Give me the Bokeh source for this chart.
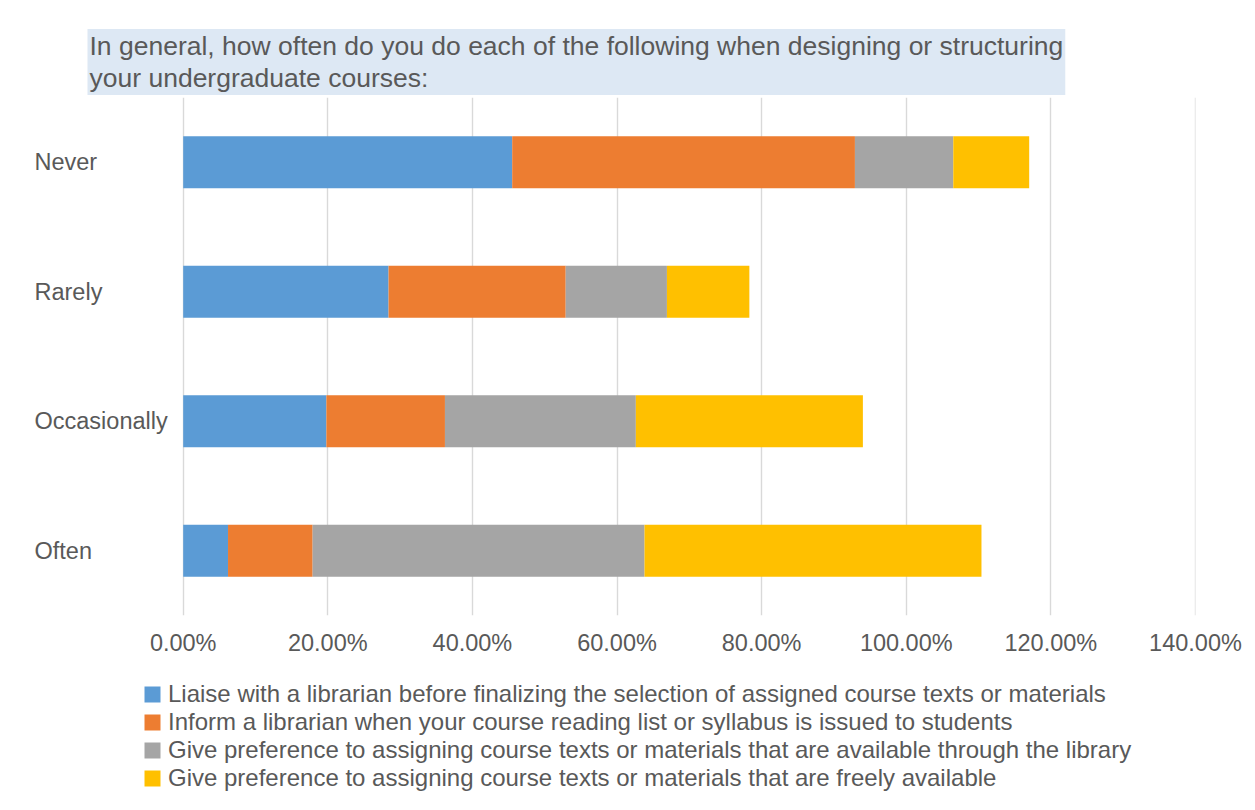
from bokeh.plotting import figure
from bokeh.layouts import column
from bokeh.core.properties import value
from bokeh.models import (ColumnDataSource, Range1d, FixedTicker, PrintfTickFormatter,
                          LabelSet, Title, Legend, LegendItem)
from bokeh.embed import file_html
from bokeh.resources import INLINE

# ---- data ----
categories = ["Often", "Occasionally", "Rarely", "Never"]
liaise = [6.2, 19.8, 28.4, 45.5]
inform = [11.7, 16.4, 24.5, 47.4]
library = [45.9, 26.4, 14.0, 13.6]
freely = [46.6, 31.4, 11.4, 10.5]
series_names = [
    "Liaise with a librarian before finalizing the selection of assigned course texts or materials",
    "Inform a librarian when your course reading list or syllabus is issued to students",
    "Give preference to assigning course texts or materials that are available through the library",
    "Give preference to assigning course texts or materials that are freely available",
]
x_ticks = [0, 20, 40, 60, 80, 100, 120, 140]
title_text = ("In general, how often do you do each of the following when designing or structuring\n"
              "your undergraduate courses:")

colors = ["#5b9bd5", "#ed7d31", "#a5a5a5", "#ffc000"]
FONT = "Liberation Sans"
TXT = "#595959"

keys = ["liaise", "inform", "library", "freely"]
source = ColumnDataSource(dict(y=list(range(len(categories))), cat=categories,
                               liaise=liaise, inform=inform, library=library, freely=freely))

W = 1247
H1 = 662
H2 = 140
frame_right = 1195
px_per_unit = (frame_right - 182.7) / 140.0
x_start = -182.7 / px_per_unit

# ---- main chart ----
p = figure(width=W, height=H1, output_backend="svg", toolbar_location=None,
           x_range=Range1d(x_start, 140.0001), y_range=Range1d(-0.5, len(categories) - 0.5),
           min_border_left=0, min_border_right=W - frame_right, min_border_top=97,
           min_border_bottom=H1 - 615)
p.outline_line_color = None
p.background_fill_color = "white"
p.border_fill_color = "white"

renderers = p.hbar_stack(keys, y="y", height=0.4, color=colors, source=source, line_width=0)

p.yaxis.visible = False
p.ygrid.grid_line_color = None
p.xgrid.grid_line_color = "#d9d9d9"
p.xgrid.grid_line_width = 1.4
p.xgrid.level = "underlay"
p.xaxis.ticker = FixedTicker(ticks=x_ticks)
p.xgrid.ticker = FixedTicker(ticks=x_ticks)
p.xaxis.formatter = PrintfTickFormatter(format="%.2f%%")
p.xaxis.axis_line_color = None
p.xaxis.major_tick_line_color = None
p.xaxis.minor_tick_line_color = None
p.xaxis.major_tick_in = 0
p.xaxis.major_tick_out = 0
p.xaxis.major_label_standoff = 14
p.xaxis.major_label_text_font = FONT
p.xaxis.major_label_text_font_size = "23.5px"
p.xaxis.major_label_text_color = TXT

labels = LabelSet(x=34, y="y", text="cat", x_units="screen", y_units="data", source=source,
                  text_font=value(FONT), text_font_size=value("23.5px"), text_color=TXT,
                  text_align="left", text_baseline="middle")
p.add_layout(labels)

title = Title(text=title_text, align="left", offset=87, standoff=5,
              text_font=FONT, text_font_size="26.5px", text_color=TXT, text_font_style="normal",
              text_line_height=1.07, background_fill_color="#dde8f4", padding=2)
p.add_layout(title, "above")

# ---- legend strip ----
p2 = figure(width=W, height=H2, output_backend="svg", toolbar_location=None,
            x_range=Range1d(0, 1), y_range=Range1d(0, 1),
            min_border_left=0, min_border_right=0, min_border_top=0, min_border_bottom=0)
p2.axis.visible = False
p2.grid.visible = False
p2.outline_line_color = None
legend_renderers = p2.hbar_stack(keys, y="y", height=0.4, color=colors, source=source,
                                 line_width=0, visible=False)
legend = Legend(items=[LegendItem(label=n, renderers=[r]) for n, r in zip(series_names, legend_renderers)],
                location=(142, 10), orientation="vertical",
                label_text_font=FONT, label_text_font_size="24px", label_text_color=TXT,
                glyph_width=20, glyph_height=20, label_standoff=6, spacing=0, label_height=20,
                padding=0, margin=0, border_line_color=None, background_fill_alpha=0,
                inactive_fill_alpha=0)
p2.add_layout(legend)

layout = column(p, p2, spacing=0)
open("out.html", "w").write(file_html(layout, INLINE))
